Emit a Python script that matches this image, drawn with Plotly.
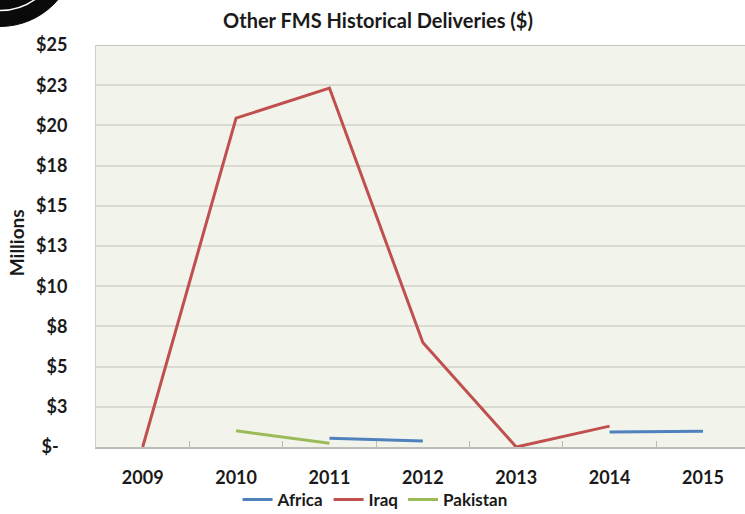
import plotly.graph_objects as go

# Delivery values in millions of dollars per fiscal year
years = ["2009", "2010", "2011", "2012", "2013", "2014", "2015"]
africa = [None, None, 0.54, 0.37, None, 0.93, 0.98]
iraq = [0.0, 20.45, 22.32, 6.50, 0.0, 1.30, None]
pakistan = [None, 1.01, 0.23, None, None, None, None]

ytick_vals = [0, 2.5, 5, 7.5, 10, 12.5, 15, 17.5, 20, 22.5, 25]
ytick_text = ["$-\u00a0\u00a0", "$3", "$5", "$8", "$10", "$13", "$15", "$18", "$20", "$23", "$25"]

FONT = "Lato"
TXT = "#1a1a1a"

fig = go.Figure()
series = [
    ("Africa", africa, "#4f81bd"),
    ("Iraq", iraq, "#c0504d"),
    ("Pakistan", pakistan, "#9bbb59"),
]
for name, vals, color in series:
    fig.add_trace(go.Scatter(
        x=years, y=vals, name=name, mode="lines",
        line=dict(color=color, width=3),
        connectgaps=False,
    ))

# Frame line along the top of the plotting area
fig.add_shape(type="line", xref="paper", yref="y", x0=0, x1=1, y0=25, y1=25,
              line=dict(color="#c4c4c0", width=2), layer="above")

# Seal emblem peeking in at the top-left corner
cx, cy = 0, -50
fig.add_shape(type="circle", xref="paper", yref="paper",
              x0=(cx - 96 - 76) / 649, x1=(cx - 96 + 76) / 649,
              y0=(447 - cy - 76) / 402.5, y1=(447 - cy + 76) / 402.5,
              fillcolor="#0a0a0a", line=dict(color="#0a0a0a", width=1), layer="above")
fig.add_shape(type="circle", xref="paper", yref="paper",
              x0=(cx - 96 - 60) / 649, x1=(cx - 96 + 60) / 649,
              y0=(447 - cy - 60) / 402.5, y1=(447 - cy + 60) / 402.5,
              fillcolor="rgba(0,0,0,0)", line=dict(color="#ffffff", width=1.5), layer="above")

# Vertical axis caption
fig.add_annotation(
    text="<b>Millions</b>", textangle=-90,
    xref="paper", yref="paper",
    x=(16 - 96) / 649, y=(447 - 243) / 402.5,
    xanchor="center", yanchor="middle", showarrow=False,
    font=dict(family=FONT, size=19, color=TXT),
)

fig.update_layout(
    width=745, height=514,
    margin=dict(l=96, r=0, t=44.5, b=67, pad=0, autoexpand=False),
    paper_bgcolor="#ffffff",
    plot_bgcolor="#f2f4ec",
    font=dict(family=FONT, color=TXT),
    title=dict(
        text="<b>Other FMS Historical Deliveries ($)</b>",
        x=378 / 745, xanchor="center", xref="container",
        y=1 - 21 / 514, yanchor="middle", yref="container",
        font=dict(family=FONT, size=20, color=TXT),
    ),
    showlegend=True,
    legend=dict(
        orientation="h", x=0.43, xanchor="center",
        y=(447 - 500) / 402.5, yanchor="middle",
        font=dict(family=FONT, size=17, color=TXT, weight="bold"),
        bgcolor="rgba(0,0,0,0)",
        itemwidth=30, tracegroupgap=0,
    ),
    xaxis=dict(
        type="category", range=[-0.5, 6.45],
        showgrid=False, zeroline=False,
        showline=True, linecolor="#bdbdb8", linewidth=2,
        ticks="inside", tickson="boundaries", ticklen=6, tickcolor="#bdbdb8",
        tickfont=dict(family=FONT, size=18, color=TXT, weight="bold"),
        ticklabelstandoff=13,
    ),
    yaxis=dict(
        range=[0, 25], tickvals=ytick_vals, ticktext=ytick_text,
        showgrid=True, gridcolor="#d9dad2", gridwidth=1.5,
        zeroline=False,
        showline=True, linecolor="#d0d0cb", linewidth=1,
        ticks="", ticklabelstandoff=24,
        tickfont=dict(family=FONT, size=18, color=TXT, weight="bold"),
    ),
)

fig.write_html("out.html")
